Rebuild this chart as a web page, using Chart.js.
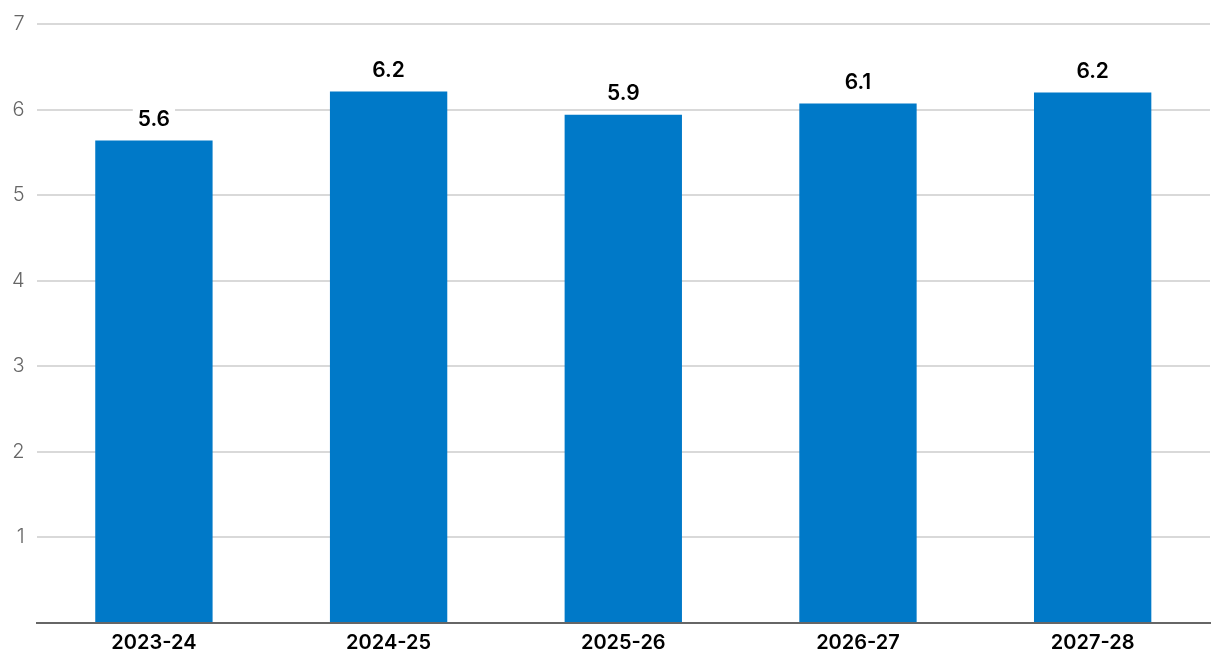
<!DOCTYPE html>
<html>
<head>
<meta charset="utf-8">
<script src="https://cdn.jsdelivr.net/npm/chart.js@4/dist/chart.umd.min.js"></script>
<style>
  body { margin: 0; background: #fff; }
  #wrap { width: 1220px; height: 672px; }
</style>
</head>
<body>
<div id="wrap"><canvas id="grafico" width="1220" height="672"></canvas></div>
<script>
// datos del gráfico
const categorias = ['2023-24', '2024-25', '2025-26', '2026-27', '2027-28'];
const valores = [5.64, 6.21, 5.94, 6.07, 6.2];
const etiquetas = ['5.6', '6.2', '5.9', '6.1', '6.2'];
const ticksY = [0, 1, 2, 3, 4, 5, 6, 7];

const fuente = 'Inter, "Noto Sans", sans-serif';

// etiquetas encima de las barras, con fondo blanco
const etiquetasPlugin = {
  id: 'etiquetas',
  afterDatasetsDraw(chart) {
    const ctx = chart.ctx;
    const meta = chart.getDatasetMeta(0);
    ctx.save();
    ctx.font = '600 21px ' + fuente;
    ctx.textAlign = 'center';
    ctx.textBaseline = 'middle';
    meta.data.forEach((bar, i) => {
      const txt = etiquetas[i];
      const y = bar.y - 21;
      const w = ctx.measureText(txt).width + 10;
      ctx.fillStyle = '#fff';
      ctx.fillRect(bar.x - w / 2, y - 12, w, 24);
      ctx.fillStyle = '#000';
      ctx.fillText(txt, bar.x, y);
    });
    ctx.restore();
  }
};

new Chart(document.getElementById('grafico'), {
  type: 'bar',
  data: {
    labels: categorias,
    datasets: [{
      data: valores,
      backgroundColor: '#0079c8',
      categoryPercentage: 1,
      barPercentage: 0.5
    }]
  },
  options: {
    responsive: false,
    animation: false,
    layout: { padding: { top: 10, right: 10, bottom: 17, left: 0 } },
    plugins: { legend: { display: false }, tooltip: { enabled: false } },
    scales: {
      x: {
        grid: { display: false },
        border: { color: '#666', width: 2 },
        ticks: { color: '#000', font: { family: fuente, size: 20, weight: '600' }, padding: 0 }
      },
      y: {
        min: 0,
        max: 7,
        afterBuildTicks: (axis) => { axis.ticks = ticksY.map(v => ({ value: v })); },
        grid: { color: '#d9d9d9', lineWidth: 2, drawTicks: false },
        border: { display: false },
        ticks: {
          color: '#666',
          padding: 12,
          font: { family: fuente, size: 20, weight: '300' },
          callback: (v) => v === 0 ? '' : v
        }
      }
    }
  },
  plugins: [etiquetasPlugin]
});
</script>
</body>
</html>
